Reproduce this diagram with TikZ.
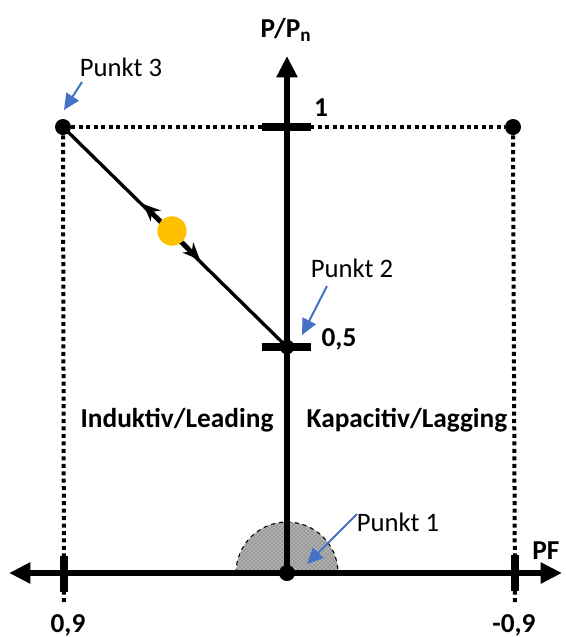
\documentclass[tikz,border=0pt]{standalone}
\usepackage{fontspec}
\setmainfont{Carlito}
\usetikzlibrary{arrows.meta,patterns}
\definecolor{pblue}{HTML}{4472C4}
\definecolor{pyellow}{HTML}{FFC000}
\tikzset{
  axis/.style={line width=4.5pt,-{Triangle[length=16pt,width=15pt]}},
  tick/.style={line width=6pt},
  dotline/.style={line width=3pt,dash pattern=on 3pt off 2.6pt},
  bigdot/.style={circle,fill=black,inner sep=0pt,minimum size=12pt},
  lbl/.style={font=\fontsize{20}{24}\selectfont},
  blbl/.style={font=\fontsize{20.5}{24}\selectfont\bfseries},
  pointer/.style={pblue,line width=1.5pt,-{Triangle[length=12pt,width=11pt]}},
  small/.style={line width=2.5pt,-{Stealth[length=13pt,width=11pt]}}
}
\begin{document}
\begin{tikzpicture}[x=0.75pt,y=-0.75pt]
\useasboundingbox (0,0) rectangle (566,637);
% coordinates
\coordinate (O) at (287,573);
\coordinate (ytop) at (287,56);
\coordinate (xleft) at (9,573);
\coordinate (xright) at (562,573);
\coordinate (xlt) at (64,573);
\coordinate (xrt) at (515,573);
\coordinate (xlb) at (64,604);
\coordinate (xrb) at (515,604);
% hatched semicircle
\fill[gray!80] (236,573) arc[start angle=180,end angle=360,radius=51] -- cycle;
\fill[pattern=crosshatch dots,pattern color=white] (236,573) arc[start angle=180,end angle=360,radius=51] -- cycle;
\draw[dashed,line width=0.8pt] (236,573) arc[start angle=180,end angle=360,radius=51];
% corner points
\node[bigdot] (p3) at (63,127) {};
\node[bigdot] (pr) at (513,127) {};
% dotted lines
\draw[dotline] (p3) -- (pr);
\draw[dotline] (p3.south) -- (xlb);
\draw[dotline] (pr.south) -- (xrb);
% axes
\draw[axis] (O) -- (ytop);
\draw[axis,{Triangle[length=16pt,width=15pt]}-{Triangle[length=16pt,width=15pt]}] (xleft) -- (xright);
% ticks
\draw[tick] (262,127) -- (311,127);
\draw[tick] (262,347) -- (311,347);
\draw[tick] (xlt) ++(0,-17) -- ++(0,36);
\draw[tick] (xrt) ++(0,-18) -- ++(0,36);
% dots on axis
\node[bigdot,minimum size=11pt] (p2) at (287,347) {};
\node[bigdot] (p1) at (O) {};
% diagonal
\draw[line width=2.5pt] (p3.center) -- (p2.center);
\node[circle,fill=pyellow,inner sep=0pt,minimum size=22pt] (y) at (172,231) {};
\coordinate (a1) at (143,204);
\coordinate (a2) at (200,260);
\draw[small] (y) -- (a1);
\draw[small] (y) -- (a2);
% labels
\node[blbl] (ylab) at (286,30) {P/P\textsubscript{n}};
\node[blbl] (one) at (321,108) {1};
\node[blbl] (half) at (339,339) {0,5};
\node[blbl] (pf) at (546,551) {PF};
\node[blbl] (l09) at (68,625) {0,9};
\node[blbl] (r09) at (514,625) {-0,9};
\node[blbl] (ind) at (177,420) {Induktiv/Leading};
\node[blbl] (kap) at (407,420) {Kapacitiv/Lagging};
\node[lbl] (t3) at (121,67) {Punkt 3};
\node[lbl] (t2) at (352,268) {Punkt 2};
\node[lbl] (t1) at (398,522) {Punkt 1};
% pointers
\coordinate (s3) at (82,82); \coordinate (e3) at (64,110);
\coordinate (s2) at (327,286); \coordinate (e2) at (302,335);
\coordinate (s1) at (357,514); \coordinate (e1) at (307,564);
\draw[pointer] (s3) -- (e3);
\draw[pointer] (s2) -- (e2);
\draw[pointer] (s1) -- (e1);
\end{tikzpicture}
\end{document}
